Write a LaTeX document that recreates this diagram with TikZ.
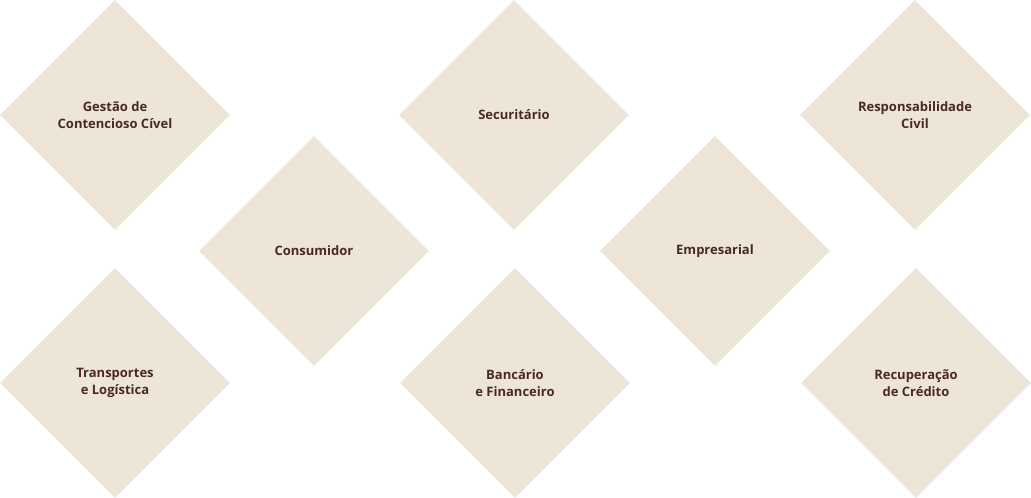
\documentclass[tikz,border=0pt]{standalone}
\usepackage{fontspec}
\setmainfont{Open Sans}
\usetikzlibrary{shapes.geometric}
\definecolor{dfill}{HTML}{ECE5D8}
\definecolor{dtext}{HTML}{4A2A1E}
\begin{document}
\begin{tikzpicture}[x=1pt,y=-1pt,
  dia/.style={diamond,fill=dfill,minimum width=230pt,minimum height=230pt,inner sep=0pt,
    align=center,text=dtext,font=\fontsize{13}{17}\selectfont\bfseries}]
\useasboundingbox (0,0) rectangle (1031,498);
\node[dia] (a) at (115,115) {Gestão de\\Contencioso Cível};
\node[dia] (b) at (514,115) {Securitário};
\node[dia] (c) at (915,115) {Responsabilidade\\Civil};
\node[dia] (d) at (314,251) {Consumidor};
\node[dia] (e) at (715,251) {Empresarial};
\node[dia] (f) at (115,383) {Transportes\\e Logística};
\node[dia] (g) at (515,383) {Bancário\\e Financeiro};
\node[dia] (h) at (916,383) {Recuperação\\de Crédito};
\end{tikzpicture}
\end{document}
